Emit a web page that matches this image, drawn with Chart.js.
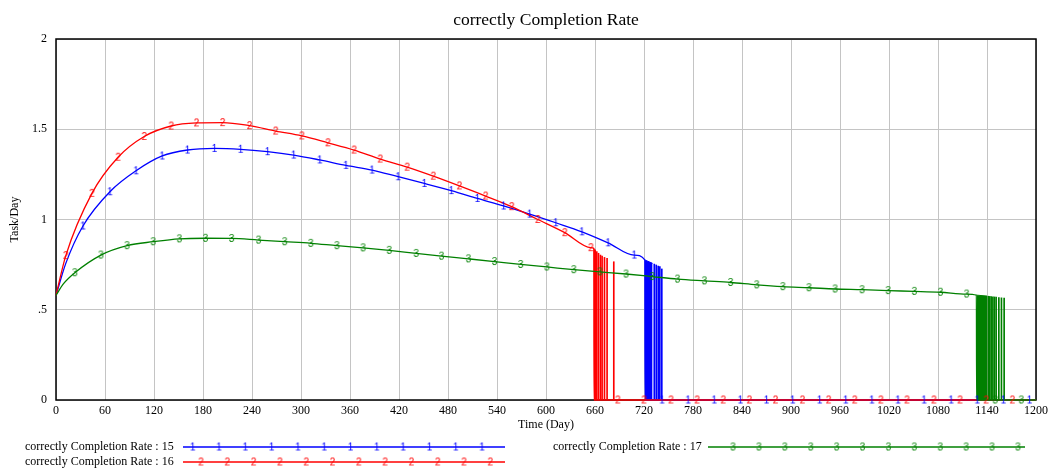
<!DOCTYPE html>
<html>
<head>
<meta charset="utf-8">
<script src="https://cdn.jsdelivr.net/npm/chart.js@4.4.0/dist/chart.umd.min.js"></script>
<style>
  html, body { margin: 0; padding: 0; background: #fff; }
  #wrap { width: 1052px; height: 468px; }
</style>
</head>
<body>
<div id="wrap"><canvas id="rateChart" width="1052" height="468"></canvas></div>
<script>
const chartTitle = 'correctly Completion Rate';
const seriesNames = ['correctly Completion Rate : 15', 'correctly Completion Rate : 16', 'correctly Completion Rate : 17'];
const xTicks = [0, 60, 120, 180, 240, 300, 360, 420, 480, 540, 600, 660, 720, 780, 840, 900, 960, 1020, 1080, 1140, 1200];
const yTicks = [0, 0.5, 1, 1.5, 2];

// run 15 (blue)
const blueTime = [0, 12, 33, 66, 98, 130, 161, 194, 226, 259, 291, 323, 355, 387, 419, 451, 484, 516, 548, 580, 612, 644, 676, 708, 721];
const blueRate = [0.58, 0.757, 0.964, 1.154, 1.27, 1.352, 1.385, 1.394, 1.389, 1.376, 1.357, 1.33, 1.30, 1.274, 1.237, 1.20, 1.16, 1.117, 1.075, 1.03, 0.982, 0.932, 0.871, 0.803, 0.776];
const blueMarks = [33, 66, 98, 130, 161, 194, 226, 259, 291, 323, 355, 387, 419, 451, 484, 516, 548, 580, 612, 644, 676, 708, 742, 774, 806, 838, 870, 902, 935, 967, 999, 1031, 1063, 1096, 1128, 1160, 1192];
const blueBlockTime = [721, 730.5];
const blueBlockRate = [0.776, 0.757];
const blueSpikeTime = [732.6, 735, 737.4, 739.4, 741.8];
const blueSpikeRate = [0.753, 0.748, 0.742, 0.739, 0.726];

// run 16 (red)
const redTime = [0, 12, 44, 76, 108, 141, 172, 204, 237, 269, 301, 333, 365, 397, 430, 462, 494, 526, 558, 590, 623, 655, 658.5];
const redRate = [0.58, 0.80, 1.145, 1.345, 1.46, 1.518, 1.535, 1.537, 1.52, 1.49, 1.463, 1.425, 1.385, 1.335, 1.29, 1.24, 1.186, 1.13, 1.071, 1.00, 0.927, 0.844, 0.84];
const redMarks = [12, 44, 76, 108, 141, 172, 204, 237, 269, 301, 333, 365, 397, 430, 462, 494, 526, 558, 590, 623, 655, 688, 720, 753, 785, 817, 849, 881, 914, 946, 978, 1010, 1042, 1075, 1107, 1139, 1171];
const redBlockTime = [658.5, 661.4];
const redBlockRate = [0.84, 0.827];
const redSpikeTime = [662.2, 664.3, 666.7, 668.7, 671.6, 674.8, 683];
const redSpikeRate = [0.822, 0.813, 0.803, 0.798, 0.79, 0.785, 0.766];

// run 17 (green)
const greenTime = [0, 9, 23, 55, 87, 119, 151, 183, 215, 248, 280, 312, 344, 376, 408, 441, 472, 505, 537, 569, 601, 634, 666, 698, 730, 761, 794, 826, 858, 890, 922, 954, 987, 1019, 1051, 1083, 1115, 1127];
const greenRate = [0.58, 0.643, 0.705, 0.803, 0.855, 0.877, 0.893, 0.896, 0.895, 0.886, 0.877, 0.868, 0.855, 0.843, 0.829, 0.812, 0.797, 0.782, 0.767, 0.751, 0.737, 0.722, 0.71, 0.698, 0.684, 0.67, 0.66, 0.651, 0.638, 0.628, 0.622, 0.615, 0.611, 0.606, 0.602, 0.597, 0.587, 0.581];
const greenMarks = [23, 55, 87, 119, 151, 183, 215, 248, 280, 312, 344, 376, 408, 441, 472, 505, 537, 569, 601, 634, 666, 698, 730, 761, 794, 826, 858, 890, 922, 954, 987, 1019, 1051, 1083, 1115, 1150, 1182];
const greenBlockTime = [1127, 1140];
const greenBlockRate = [0.581, 0.576];
const greenSpikeTime = [1141.5, 1143.3, 1145.1, 1147.2, 1149.1, 1151.2, 1154.5, 1157.7, 1161];
const greenSpikeRate = [0.575, 0.574, 0.573, 0.572, 0.571, 0.57, 0.568, 0.566, 0.565];

const SERIF = '"Liberation Serif", "Times New Roman", serif';
const BLUE = '#0000ff', RED = '#ff0000', GREEN = '#008000';

function markerImage(label, color) {
    const c = document.createElement('canvas');
    c.width = 9;
    c.height = 11;
    const g = c.getContext('2d');
    g.fillStyle = color;
    g.font = '10px "Liberation Sans", sans-serif';
    g.textAlign = 'center';
    g.textBaseline = 'middle';
    g.fillText(label, 4.5, 6);
    return c;
}
const markBlue = markerImage('1', BLUE);
const markRed = markerImage('2', RED);
const markGreen = markerImage('3', GREEN);

const pts = (ts, vs) => ts.map((t, i) => ({x: t, y: vs[i]}));
// curve, then straight down to zero and flat until the end
const lineData = (ts, vs) => pts(ts, vs).concat([{x: ts[ts.length - 1] + 0.3, y: 0}, {x: 1200, y: 0}]);
const markData = (marks, ts, vs) => marks.map(t => {
    const i = ts.indexOf(t);
    return {x: t, y: i >= 0 ? vs[i] : 0};
});

function runSets(ts, vs, marks, bt, bv, st, sv, color, mark, order) {
    return [
        {type: 'line', data: lineData(ts, vs), borderColor: color, borderWidth: 1.3,
         cubicInterpolationMode: 'monotone', pointRadius: 0, fill: false, clip: 3, order: order},
        {type: 'line', data: pts(bt, bv), borderColor: color, backgroundColor: color, borderWidth: 1,
         fill: 'origin', pointRadius: 0, tension: 0, clip: 3, order: order},
        {type: 'bar', data: pts(st, sv), backgroundColor: color, barThickness: 1, grouped: false, order: order},
        {type: 'line', data: markData(marks, ts, vs), showLine: false, pointStyle: mark,
         pointRadius: 4, clip: 6, order: 0}
    ];
}

const framePlugin = {
    id: 'frame',
    beforeDatasetsDraw(chart) {
        const {ctx, chartArea: a} = chart;
        ctx.save();
        ctx.strokeStyle = '#000';
        ctx.lineWidth = 1.5;
        ctx.strokeRect(a.left, a.top, a.right - a.left, a.bottom - a.top);
        ctx.restore();
    }
};

const legendRows = [
    {name: seriesNames[0], color: BLUE, mark: markBlue, tx: 25, y: 447, x0: 183, x1: 505, first: 192.7, step: 26.3},
    {name: seriesNames[1], color: RED, mark: markRed, tx: 25, y: 462, x0: 183, x1: 505, first: 201, step: 26.3},
    {name: seriesNames[2], color: GREEN, mark: markGreen, tx: 553, y: 447, x0: 708, x1: 1025, first: 733, step: 25.9}
];

const legendPlugin = {
    id: 'runLegend',
    afterDraw(chart) {
        const ctx = chart.ctx;
        ctx.save();
        legendRows.forEach(r => {
            ctx.fillStyle = '#000';
            ctx.font = '12px ' + SERIF;
            ctx.textBaseline = 'middle';
            ctx.textAlign = 'left';
            ctx.fillText(r.name, r.tx, r.y);
            ctx.strokeStyle = r.color;
            ctx.lineWidth = 1.5;
            ctx.beginPath();
            ctx.moveTo(r.x0, r.y);
            ctx.lineTo(r.x1, r.y);
            ctx.stroke();
            for (let k = 0; k < 12; k++) {
                const x = r.first + k * r.step;
                ctx.drawImage(r.mark, x - r.mark.width / 2, r.y - r.mark.height / 2);
            }
        });
        ctx.restore();
    }
};

new Chart(document.getElementById('rateChart'), {
    type: 'line',
    data: {
        datasets: [].concat(
            runSets(greenTime, greenRate, greenMarks, greenBlockTime, greenBlockRate, greenSpikeTime, greenSpikeRate, GREEN, markGreen, 1),
            runSets(redTime, redRate, redMarks, redBlockTime, redBlockRate, redSpikeTime, redSpikeRate, RED, markRed, 2),
            runSets(blueTime, blueRate, blueMarks, blueBlockTime, blueBlockRate, blueSpikeTime, blueSpikeRate, BLUE, markBlue, 3)
        )
    },
    options: {
        responsive: false,
        animation: false,
        events: [],
        layout: {padding: {left: 0, right: 14, top: 0, bottom: 36}},
        plugins: {
            legend: {display: false},
            tooltip: {enabled: false},
            title: {
                display: true,
                text: chartTitle,
                fullSize: false,
                color: '#000',
                font: {family: SERIF, size: 17.5, weight: 'normal'},
                padding: {top: 10, bottom: 8}
            }
        },
        scales: {
            x: {
                type: 'linear',
                min: 0,
                max: 1200,
                offset: false,
                afterBuildTicks: s => { s.ticks = xTicks.map(v => ({value: v})); },
                afterFit: s => { s.height = 32; },
                grid: {color: '#c4c4c4', lineWidth: 1, drawTicks: false, offset: false},
                border: {display: false},
                ticks: {
                    color: '#000',
                    font: {family: SERIF, size: 12},
                    padding: 4,
                    maxRotation: 0,
                    autoSkip: false,
                    callback: v => String(v)
                },
                title: {display: true, text: 'Time (Day)', color: '#000', font: {family: SERIF, size: 12}, padding: {top: 0, bottom: 0}}
            },
            y: {
                min: 0,
                max: 2,
                afterBuildTicks: s => { s.ticks = yTicks.map(v => ({value: v})); },
                afterFit: s => { s.width = 56; },
                grid: {color: '#c4c4c4', lineWidth: 1, drawTicks: false},
                border: {display: false},
                ticks: {
                    color: '#000',
                    font: {family: SERIF, size: 12},
                    padding: 9,
                    callback: v => (v === 0.5 ? '.5' : String(v))
                },
                title: {display: true, text: 'Task/Day', color: '#000', font: {family: SERIF, size: 12}, padding: {top: 8, bottom: 0}}
            }
        }
    },
    plugins: [framePlugin, legendPlugin]
});
</script>
</body>
</html>
